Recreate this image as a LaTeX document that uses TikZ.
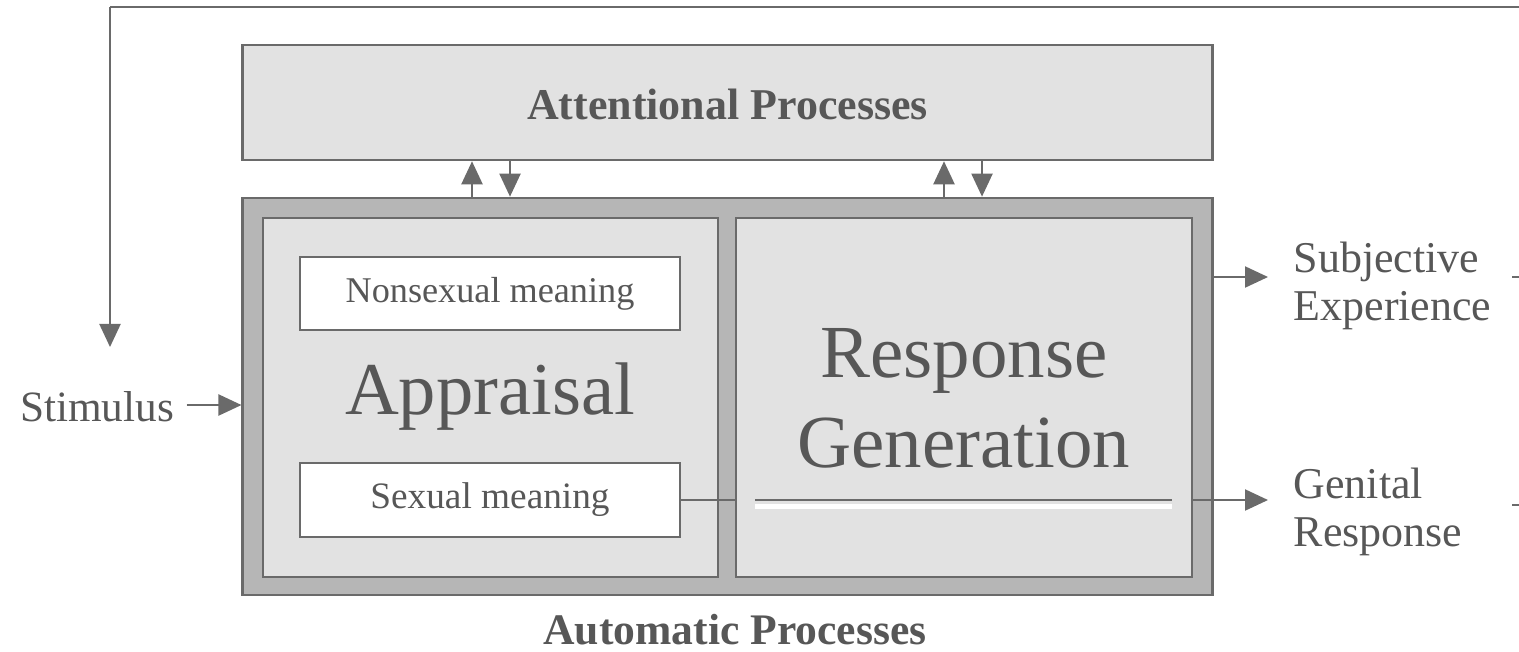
\documentclass[tikz,border=0pt]{standalone}
\usepackage{fontspec}
\setmainfont{Liberation Serif}
\usepackage{tikz}
\usetikzlibrary{positioning}
\usetikzlibrary{arrows.meta}

\definecolor{lineagris}{HTML}{6A6A6A}
\definecolor{textogris}{HTML}{575757}
\definecolor{fondoclaro}{HTML}{E2E2E2}
\definecolor{fondooscuro}{HTML}{B6B6B6}

\begin{document}
\begin{tikzpicture}[x=0.01cm, y=-0.01cm,
    caja/.style={draw=lineagris, line width=0.7pt, rectangle, inner sep=0pt},
    etiqueta/.style={text=textogris, inner sep=0pt},
    flecha/.style={-{Triangle[width=0.21cm, length=0.23cm]}, draw=lineagris, fill=lineagris, line width=0.6pt}]
              \useasboundingbox (0,0) rectangle (1519,651);

              % Cajas
              \node[caja, fill=fondoclaro, minimum width=9.69cm, minimum height=1.15cm] (atencion) at (727.5,102.5) {};
              \node[caja, fill=fondooscuro, minimum width=9.69cm, minimum height=3.97cm] (automatico) at (727.5,396.5) {};
              \node[caja, fill=fondoclaro, minimum width=4.55cm, minimum height=3.59cm] (valoracion) at (490.5,397.5) {};
              \node[caja, fill=fondoclaro, minimum width=4.56cm, minimum height=3.59cm] (respuesta) at (964,397.5) {};
              \node[caja, fill=white, minimum width=3.80cm, minimum height=0.73cm, etiqueta, font=\fontsize{10.3}{12}\selectfont] (nosexual) at (490,293.5) {Nonsexual meaning};
              \node[caja, fill=white, minimum width=3.80cm, minimum height=0.74cm, etiqueta, font=\fontsize{10.6}{12}\selectfont] (sexual) at (490,500) {Sexual meaning};

              % Textos
              \node[etiqueta, font=\bfseries\fontsize{12.5}{15}\selectfont] (tatencion) at (727.5,104) {Attentional Processes};
              \node[etiqueta, font=\bfseries\fontsize{12.4}{15}\selectfont] (tautomatico) at (735,630) {Automatic Processes};
              \node[etiqueta, font=\fontsize{21.2}{25}\selectfont] (tvaloracion) at (490,397) {Appraisal};
              \node[etiqueta, align=center, font=\fontsize{21.3}{25.6}\selectfont] (trespuesta) at (964,398) {Response\\Generation};
              \node[etiqueta, font=\fontsize{12.3}{15}\selectfont] (estimulo) at (97,407) {Stimulus};
              \node[etiqueta, anchor=west, align=left, font=\fontsize{12.5}{13.7}\selectfont] (subjetiva) at (1293,286) {Subjective\\Experience};
              \node[etiqueta, anchor=west, align=left, font=\fontsize{12.5}{13.7}\selectfont] (genital) at (1293,512) {Genital\\Response};

              \coordinate (retorno) at (1530,7);
              \coordinate (esquina) at (110,7);
              \coordinate (destino) at (110,347);
              \coordinate (linea) at (755,500);
              \coordinate (lineafin) at (1172,500);

              % Aristas
              \draw[lineagris, line width=0.6pt] (retorno) -- (esquina);
              \draw[flecha] (esquina) -- (destino);
              \draw[flecha] (estimulo.east) ++(12,-2) -- (automatico.west |- 0,405);
              \draw[flecha] (automatico.north -| 472,0) -- (atencion.south -| 472,0);
              \draw[flecha] (atencion.south -| 510,0) -- (automatico.north -| 510,0);
              \draw[flecha] (automatico.north -| 944,0) -- (atencion.south -| 944,0);
              \draw[flecha] (atencion.south -| 982,0) -- (automatico.north -| 982,0);
              \draw[flecha] (automatico.east |- 0,277) -- (1268,277);
              \draw[lineagris, line width=0.6pt] (sexual.east) -- (respuesta.west |- sexual.east);
              \draw[white, line width=1.4pt] ([yshift=-0.065cm]linea) -- ([yshift=-0.065cm]lineafin);
              \draw[lineagris, line width=0.6pt] (linea) -- (lineafin);
              \draw[flecha] (respuesta.east |- linea) -- (1268,500);
              \draw[lineagris, line width=0.6pt] (1512,277) -- (1530,277);
              \draw[lineagris, line width=0.6pt] (1512,505) -- (1530,505);
            \end{tikzpicture}
\end{document}
